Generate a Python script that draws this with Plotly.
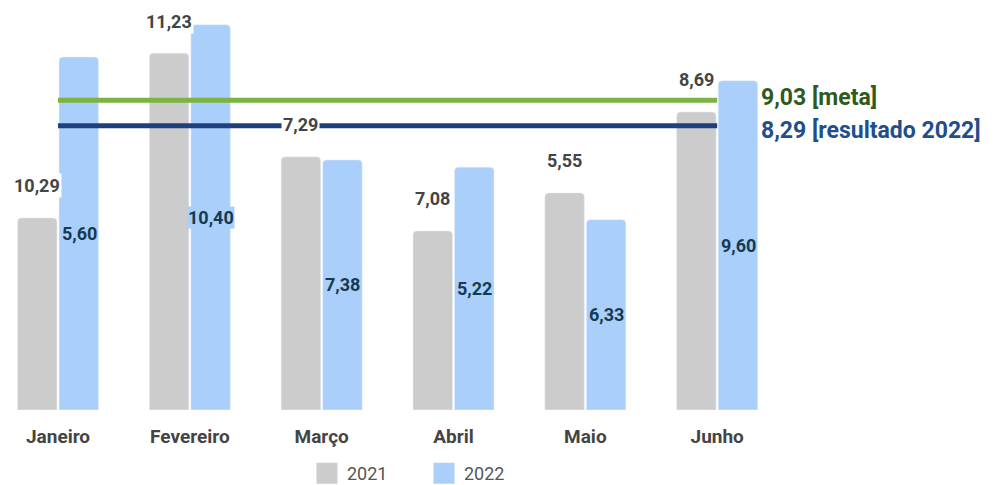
import plotly.graph_objects as go

months = ["Janeiro", "Fevereiro", "Março", "Abril", "Maio", "Junho"]
bars_2021 = [5.60, 10.40, 7.38, 5.22, 6.33, 8.69]
bars_2022 = [10.29, 11.23, 7.29, 7.08, 5.55, 9.60]
labels_2021 = ["10,29", "11,23", "7,29", "7,08", "5,55", "8,69"]
labels_2022 = ["5,60", "10,40", "7,38", "5,22", "6,33", "9,60"]
meta = 9.03
resultado_2022 = 8.29
meta_label = "9,03 [meta]"
resultado_label = "8,29 [resultado 2022]"

GRAY = "#cccccc"
BLUE = "#aacffa"
GREEN = "#7cb342"
NAVY = "#1f3f7f"
FONT = "Roboto"

fig = go.Figure()
fig.add_trace(go.Bar(
    x=months, y=bars_2021, name="2021", marker_color=GRAY,
    showlegend=False, hoverinfo="skip",
))
fig.add_trace(go.Bar(
    x=months, y=bars_2022, name="2022", marker_color=BLUE,
    showlegend=False, hoverinfo="skip",
))
fig.add_trace(go.Scatter(
    x=months, y=[meta] * len(months), mode="lines",
    line=dict(color=GREEN, width=5), showlegend=False, hoverinfo="skip",
))
fig.add_trace(go.Scatter(
    x=months, y=[resultado_2022] * len(months), mode="lines",
    line=dict(color=NAVY, width=5), showlegend=False, hoverinfo="skip",
))
# legend entries with large square swatches
fig.add_trace(go.Scatter(x=[None], y=[None], mode="markers", name="2021",
                         marker=dict(symbol="square", size=16, color=GRAY,
                                     line=dict(color=GRAY, width=5))))
fig.add_trace(go.Scatter(x=[None], y=[None], mode="markers", name="2022",
                         marker=dict(symbol="square", size=16, color=BLUE,
                                     line=dict(color=BLUE, width=5))))

annotations = []
for m, v, t in zip(months, bars_2021, labels_2021):
    annotations.append(dict(
        x=m, y=v, xref="x", yref="y", text=t, showarrow=False,
        xshift=-21, yshift=32, yanchor="middle", xanchor="center",
        bgcolor="white", borderpad=1,
        font=dict(family=FONT, size=18, color="#444444", weight="bold"),
    ))
for m, v, t in zip(months, bars_2022, labels_2022):
    annotations.append(dict(
        x=m, y=v / 2, xref="x", yref="y", text=t, showarrow=False,
        xshift=21, yanchor="middle", xanchor="center",
        bgcolor=BLUE, borderpad=0,
        font=dict(family=FONT, size=18, color="#163a52", weight="bold"),
    ))
annotations.append(dict(
    x=0.949, xref="paper", y=meta, yref="y", text=meta_label, showarrow=False,
    xanchor="left", yanchor="middle", yshift=3,
    font=dict(family=FONT, size=23, color="#2e5a1c", weight="bold"),
))
annotations.append(dict(
    x=0.949, xref="paper", y=resultado_2022, yref="y", text=resultado_label,
    showarrow=False, xanchor="left", yanchor="middle", yshift=-5,
    font=dict(family=FONT, size=23, color="#1f4e8c", weight="bold"),
))

fig.update_layout(
    width=986, height=477,
    margin=dict(l=0, r=195, t=0, b=75, autoexpand=False),
    paper_bgcolor="white", plot_bgcolor="white",
    barmode="group", bargap=0.37, bargroupgap=0.05,
    barcornerradius=4,
    font=dict(family=FONT),
    xaxis=dict(
        type="category", range=[-0.3794, 5.6206], showgrid=False, zeroline=False,
        showline=False, ticks="", ticklabelstandoff=13, automargin=False,
        tickfont=dict(family=FONT, size=19, color="#444444", weight="bold"),
    ),
    yaxis=dict(range=[0, 11.72], visible=False, showgrid=False, zeroline=False),
    showlegend=True,
    legend=dict(
        orientation="h", x=0.378, xanchor="left", y=-0.112, yanchor="top",
        font=dict(family=FONT, size=18, color="#555555"),
        entrywidth=72, entrywidthmode="pixels",
        bgcolor="rgba(0,0,0,0)",
    ),
    annotations=annotations,
)

fig.write_html("out.html")
